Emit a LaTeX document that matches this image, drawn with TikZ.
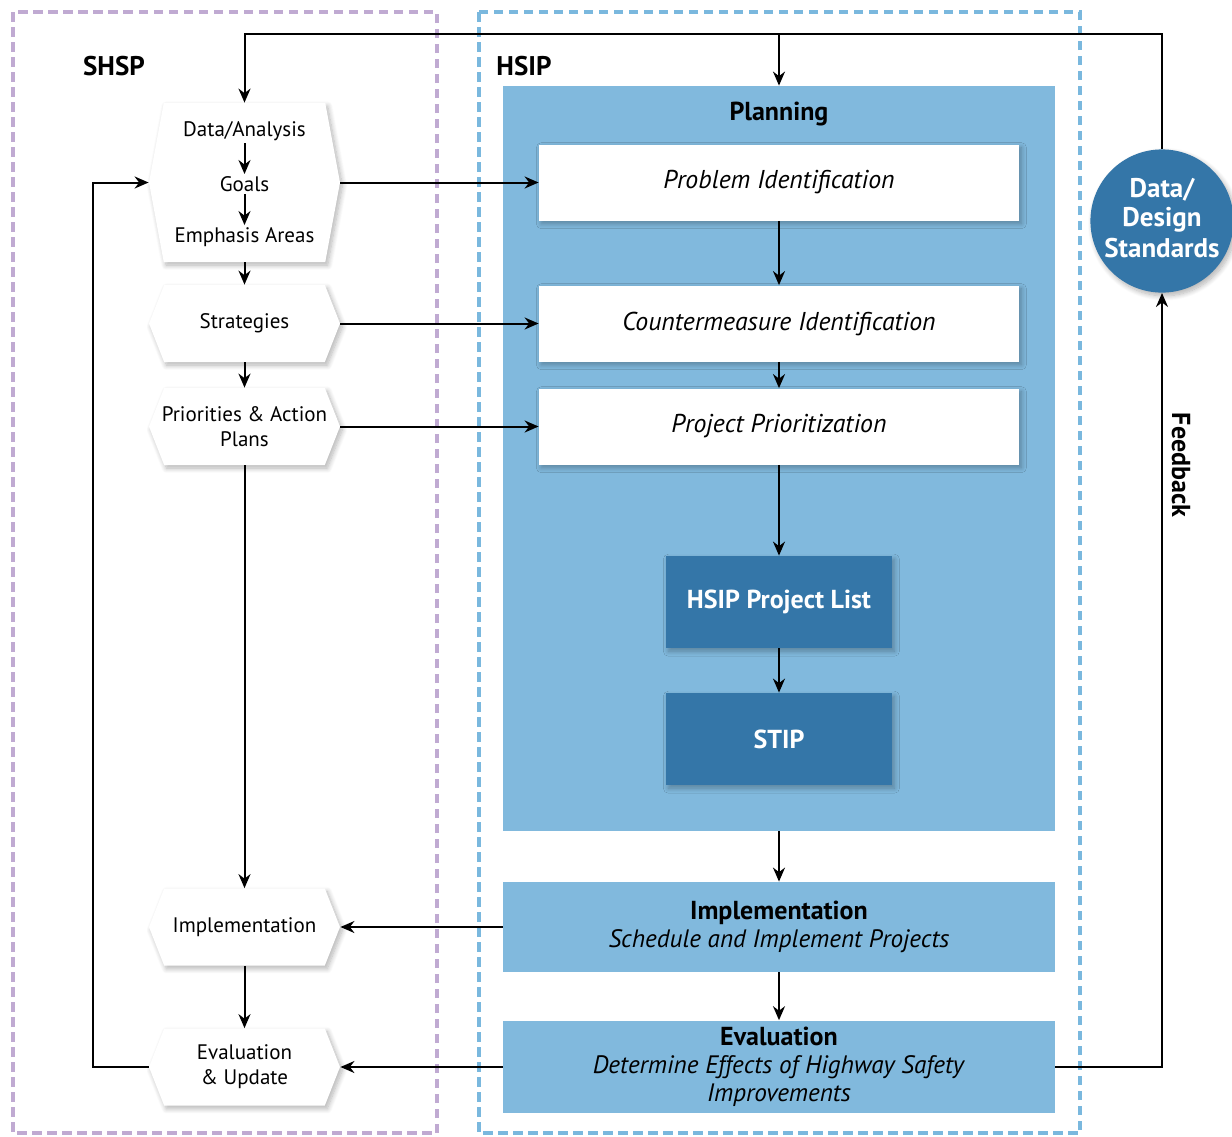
\documentclass[tikz,border=0pt]{standalone}
\usepackage{fontspec}
\setmainfont{PT Sans}
\usepackage{tikz}
\usetikzlibrary{arrows.meta, positioning, calc, shapes.symbols, shadows, shadows.blur}
\definecolor{mypurple}{RGB}{192,170,210}
\definecolor{mydash}{RGB}{122,184,222}
\definecolor{mylight}{RGB}{129,185,221}
\definecolor{mydark}{RGB}{52,118,168}
\tikzset{
  softshadow/.style={blur shadow={shadow xshift=1.2pt, shadow yshift=-1.6pt,
    shadow blur radius=2.5pt, shadow blur steps=10, shadow opacity=30}},
  hexblock/.style={signal, signal to=west and east, signal pointer angle=137,
    fill=white, minimum width=95.5pt, minimum height=38.5pt, inner xsep=0pt,
    inner ysep=2pt, align=center, font=\fontsize{10.5}{12.5}\selectfont, softshadow},
  hextext/.style={inner sep=1pt, font=\fontsize{10.5}{12.5}\selectfont},
  whiteblock/.style={rectangle, fill=white, minimum width=240pt,
    minimum height=38pt, font=\fontsize{12.9}{15}\selectfont\itshape, softshadow},
  darkblock/.style={rectangle, fill=mydark, text=white, minimum width=113pt,
    minimum height=46pt, font=\fontsize{13}{15}\selectfont\bfseries, softshadow},
  lightblock/.style={rectangle, fill=mylight, minimum width=276pt,
    minimum height=45pt, align=center, font=\fontsize{12.6}{14}\selectfont},
  stdcircle/.style={circle, fill=mydark, text=white, minimum size=70pt,
    inner sep=0pt, align=center, font=\fontsize{13.5}{14}\selectfont\bfseries,
    softshadow},
  title/.style={font=\fontsize{13.5}{15}\selectfont\bfseries},
  arrow/.style={-{Stealth[length=7pt, width=6pt]}, line width=1pt, color=black},
  shspframe/.style={draw=mypurple, line width=2pt, dash pattern=on 4.75pt off 2.75pt},
  hsipframe/.style={draw=mydash, line width=2pt, dash pattern=on 4.75pt off 2.75pt}
}

\begin{document}
\begin{tikzpicture}[x=0.5pt, y=-0.5pt]
  \useasboundingbox (0,0) rectangle (1232,1136);

  % Program frames
  \draw[shspframe] (13,12) rectangle (437,1133);
  \draw[hsipframe] (479,12) rectangle (1080,1133);
  \node[title] (shspLbl) at (114,66) {SHSP};
  \node[title] (hsipLbl) at (524,66) {HSIP};

  % Planning area
  \node[rectangle, fill=mylight, minimum width=276pt, minimum height=372.5pt] (planBox) at (779,458.5) {};
  \node[title, font=\fontsize{13}{15}\selectfont\bfseries] (planLbl) at (779,114) {Planning};
  \node[whiteblock] (probBox) at (779,182.5) {Problem Identification};
  \node[whiteblock] (cmBox) at (779,323.5) {Countermeasure Identification};
  \node[whiteblock] (prioBox) at (779,426.5) {Project Prioritization};
  \node[darkblock] (listBox) at (779,602) {HSIP Project List};
  \node[darkblock] (stipBox) at (779,739) {STIP};

  % Implementation and evaluation
  \node[lightblock] (implBox) at (779,927) {{\fontsize{13}{14}\selectfont\bfseries Implementation}\\\textit{Schedule and Implement Projects}};
  \node[lightblock] (evalBox) at (779,1067) {{\fontsize{13}{14}\selectfont\bfseries Evaluation}\\\textit{Determine Effects of Highway Safety}\\\textit{Improvements}};

  % SHSP steps
  \node[hexblock, signal pointer angle=159, minimum height=79.5pt] (dataHex) at (244.5,182.5) {};
  \node[hextext] (dataTxt) at (244.5,131) {Data/Analysis};
  \node[hextext] (goalsTxt) at (244.5,184) {Goals};
  \node[hextext] (emphTxt) at (244.5,237) {Emphasis Areas};
  \node[hexblock] (stratHex) at (244.5,323.5) {Strategies};
  \node[hexblock, inner xsep=-2pt] (prioHex) at (244.5,426.5) {Priorities \& Action\\Plans};
  \node[hexblock] (implHex) at (244.5,927) {Implementation};
  \node[hexblock] (evalHex) at (244.5,1067) {Evaluation\\\& Update};

  % Standards and feedback
  \node[stdcircle] (stdCircle) at (1162,221) {\raisebox{3pt}{\shortstack{Data/\\Design\\Standards}}};
  \node[title, font=\fontsize{13}{14}\selectfont\bfseries, rotate=-90] (fbLbl) at (1181,465) {Feedback};
  \coordinate (topY) at (0,34);
  \coordinate (loopX) at (93,0);

  % Arrows
  \draw[arrow] (dataTxt) -- (goalsTxt);
  \draw[arrow] (goalsTxt) -- (emphTxt);
  \draw[arrow] (dataHex.south) -- (stratHex.north);
  \draw[arrow] (stratHex.south) -- (prioHex.north);
  \draw[arrow] (prioHex.south) -- (implHex.north);
  \draw[arrow] (implHex.south) -- (evalHex.north);

  \draw[arrow] (dataHex.east) -- (probBox.west);
  \draw[arrow] (stratHex.east) -- (cmBox.west);
  \draw[arrow] (prioHex.east) -- (prioBox.west);

  \draw[arrow] (probBox.south) -- (cmBox.north);
  \draw[arrow] (cmBox.south) -- (prioBox.north);
  \draw[arrow] (prioBox.south) -- (listBox.north);
  \draw[arrow] (listBox.south) -- (stipBox.north);
  \draw[arrow] (planBox.south) -- (implBox.north);
  \draw[arrow] (implBox.south) -- (evalBox.north);

  \draw[arrow] (implBox.west) -- (implHex.east);
  \draw[arrow] (evalBox.west) -- (evalHex.east);

  \draw[arrow] (evalBox.east) -| (stdCircle.south);
  \draw[arrow] (stdCircle.north) -- (stdCircle.north |- topY) -- (dataHex.north |- topY) -- (dataHex.north);
  \draw[arrow] (planBox.north |- topY) -- (planBox.north);
  \draw[arrow] (evalHex.west) -- (evalHex.west -| loopX) |- (dataHex.west);
\end{tikzpicture}
\end{document}
